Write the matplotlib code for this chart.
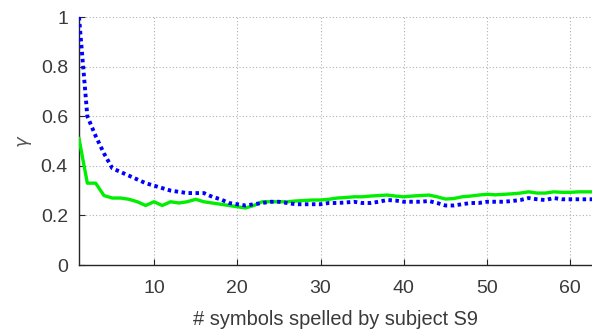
import matplotlib
matplotlib.use("Agg")
import matplotlib.pyplot as plt
import numpy as np

symbols = list(range(1, 64))

gamma_dotted = [1.00, 0.60, 0.52, 0.45, 0.39, 0.375, 0.36, 0.345, 0.33, 0.32,
                0.31, 0.30, 0.295, 0.29, 0.29, 0.29, 0.275, 0.265, 0.25, 0.245,
                0.24, 0.245, 0.25, 0.255, 0.255, 0.25, 0.245, 0.245, 0.245, 0.245,
                0.25, 0.25, 0.252, 0.255, 0.25, 0.25, 0.255, 0.262, 0.26, 0.255,
                0.255, 0.255, 0.258, 0.25, 0.24, 0.24, 0.245, 0.25, 0.25, 0.255,
                0.255, 0.255, 0.258, 0.262, 0.27, 0.265, 0.262, 0.27, 0.265, 0.265,
                0.265, 0.265, 0.265]

gamma_solid = [0.51, 0.33, 0.33, 0.28, 0.27, 0.27, 0.265, 0.255, 0.24, 0.255,
               0.24, 0.255, 0.25, 0.255, 0.265, 0.255, 0.25, 0.245, 0.24, 0.235,
               0.23, 0.24, 0.255, 0.255, 0.255, 0.255, 0.258, 0.26, 0.262, 0.262,
               0.265, 0.27, 0.272, 0.275, 0.275, 0.278, 0.28, 0.282, 0.278, 0.275,
               0.278, 0.28, 0.282, 0.275, 0.266, 0.268, 0.275, 0.278, 0.282, 0.285,
               0.283, 0.285, 0.287, 0.29, 0.295, 0.29, 0.29, 0.295, 0.293, 0.293,
               0.295, 0.295, 0.295]

x_ticks = [10, 20, 30, 40, 50, 60]
y_ticks = [0, 0.2, 0.4, 0.6, 0.8, 1]
y_tick_labels = ["0", "0.2", "0.4", "0.6", "0.8", "1"]

plt.rcParams["font.family"] = ["Liberation Sans", "DejaVu Sans"]
text_color = "#3a3a3a"

fig = plt.figure(figsize=(5.92, 3.33), dpi=100)
ax = fig.add_axes([79 / 592, 68 / 333, 1 - 79 / 592, 248 / 333])

ax.plot(symbols, gamma_solid, color="#00ee00", lw=2.4, solid_joinstyle="round", zorder=3)
ax.plot(symbols, gamma_dotted, color="#0000ff", lw=2.8, linestyle=(0, (0.9, 0.9)),
        dash_capstyle="butt", zorder=4)

ax.set_xlim(1, 62.6)
ax.set_ylim(0, 1)
ax.set_xticks(x_ticks)
ax.set_yticks(y_ticks)
ax.set_yticklabels(y_tick_labels)

ax.grid(True, color="#b0b0b0", linestyle=(0, (1, 2)), linewidth=0.8)
ax.set_axisbelow(True)

for side in ("top", "right"):
    ax.spines[side].set_visible(False)
for side in ("left", "bottom"):
    ax.spines[side].set_color("#262626")
    ax.spines[side].set_linewidth(1.0)

ax.tick_params(direction="in", length=4, width=0.8, color="#262626",
               labelcolor=text_color, labelsize=14)
ax.tick_params(axis="x", pad=11)
ax.tick_params(axis="y", pad=8)

ax.set_xlabel("# symbols spelled by subject S9", fontsize=14.4, color=text_color, labelpad=9)
ax.set_ylabel(r"$\gamma$", fontsize=13, color="#555555", labelpad=5)

fig.savefig("out.png", dpi=100)
